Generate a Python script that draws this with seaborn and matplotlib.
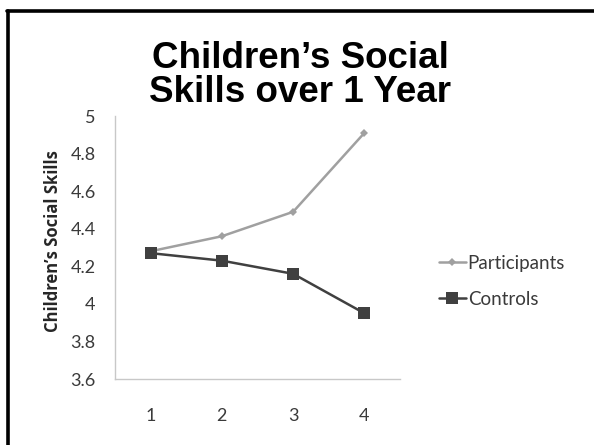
import matplotlib
matplotlib.use("Agg")
import matplotlib.pyplot as plt
import seaborn as sns
import pandas as pd
from matplotlib.lines import Line2D

time_points = [1, 2, 3, 4]
participants = [4.28, 4.36, 4.49, 4.91]
controls = [4.27, 4.23, 4.16, 3.95]
series_names = ["Participants", "Controls"]
title_text = "Children\u2019s Social\nSkills over 1 Year"
ylabel_text = "Children\u2019s Social Skills"
yticks = [3.6, 3.8, 4.0, 4.2, 4.4, 4.6, 4.8, 5.0]
ytick_labels = ["3.6", "3.8", "4", "4.2", "4.4", "4.6", "4.8", "5"]

df = pd.DataFrame({
    "time": [str(t) for t in time_points] * 2,
    "value": participants + controls,
    "group": [series_names[0]] * 4 + [series_names[1]] * 4,
})

sns.set_style("white")
fig = plt.figure(figsize=(5.94, 4.45), dpi=100)
ax = fig.add_axes([0.1936, 0.1483, 0.4798, 0.591])

pcol, ccol = "#a0a0a0", "#404040"
palette = {"Participants": pcol, "Controls": ccol}
sns.lineplot(data=df, x="time", y="value", hue="group", style="group",
             markers={"Participants": "D", "Controls": "s"}, dashes=False,
             palette=palette, sort=False, ax=ax, legend=False, linewidth=1.8,
             markeredgewidth=0)
for line in ax.lines:
    if line.get_color() == pcol:
        line.set_markersize(4.5)
    else:
        line.set_markersize(8)

ax.set_xlim(-0.5, 3.5)
ax.set_ylim(3.6, 5.0)
ax.set_yticks(yticks)
ax.set_yticklabels(ytick_labels)
ax.set_xlabel("")
ax.set_ylabel(ylabel_text, fontsize=12, fontweight="bold", family="Open Sans")
ax.yaxis.set_label_coords(-0.187, 0.525)
ax.tick_params(axis="y", length=0, pad=14, labelsize=13, colors="#3a3a3a")
ax.tick_params(axis="x", length=0, pad=21, labelsize=13, colors="#3a3a3a")
for lab in ax.get_xticklabels() + ax.get_yticklabels():
    lab.set_family("Lato")
for s in ["top", "right"]:
    ax.spines[s].set_visible(False)
for s in ["left", "bottom"]:
    ax.spines[s].set_color("#c8c8c8")
    ax.spines[s].set_linewidth(1.0)

handles = [
    Line2D([], [], color=pcol, marker="D", markersize=4.5, markeredgewidth=0, linewidth=1.8),
    Line2D([], [], color=ccol, marker="s", markersize=8, markeredgewidth=0, linewidth=1.8),
]
leg = fig.legend(handles, series_names, loc="center left", bbox_to_anchor=(0.710, 0.368),
                 frameon=False, handlelength=1.45, handletextpad=0.1, labelspacing=1.0,
                 prop={"family": "Lato", "size": 13.5})
for t in leg.get_texts():
    t.set_color("#3a3a3a")

fig.text(0.505, 0.831, title_text, ha="center", va="center", fontsize=26.5,
         fontweight="bold", family="Liberation Sans", linespacing=0.95, color="black")

# frame lines (left and top)
fig.add_artist(Line2D([0.0135, 0.0135], [0.0, 0.976], transform=fig.transFigure,
                      color="black", linewidth=2.6))
fig.add_artist(Line2D([0.0115, 1.0], [0.976, 0.976], transform=fig.transFigure,
                      color="black", linewidth=2.6))

fig.savefig("out.png", dpi=100)
